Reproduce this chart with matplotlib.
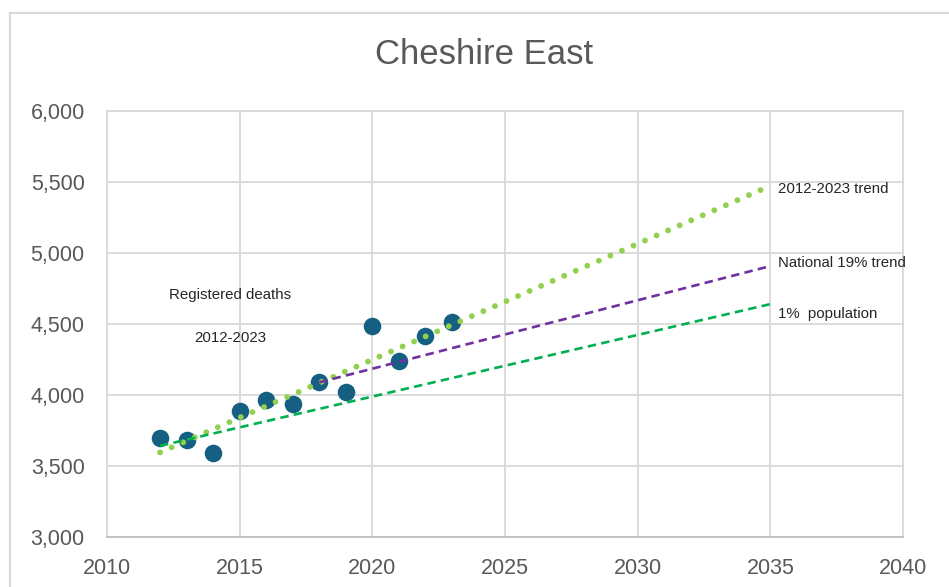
import numpy as np
import matplotlib
matplotlib.use("Agg")
import matplotlib.pyplot as plt
from matplotlib.lines import Line2D

plt.rcParams['font.family'] = ['Liberation Sans', 'DejaVu Sans']

# registered deaths, Cheshire East
years = [2012, 2013, 2014, 2015, 2016, 2017, 2018, 2019, 2020, 2021, 2022, 2023]
deaths = [3700, 3685, 3593, 3889, 3967, 3937, 4089, 4021, 4485, 4237, 4419, 4513]

# projections (start / end)
national_years = [2018, 2035]
national_vals = [4089, 4908]
pop_years = [2012, 2035]
pop_vals = [3642, 4640]
trend_years = [2012, 2035]

x_ticks = [2010, 2015, 2020, 2025, 2030, 2035, 2040]
y_ticks = [3000, 3500, 4000, 4500, 5000, 5500, 6000]

grey = "#595959"
grid = "#d9d9d9"

fig = plt.figure(figsize=(9.49, 5.87), dpi=100)
ax = fig.add_axes([107 / 949, 50 / 587, 796 / 949, 426 / 587])

# linear trend through the registered deaths (as excel does)
coef = np.polyfit(years, deaths, 1)
trend_vals = np.polyval(coef, trend_years)

ax.scatter(years, deaths, s=160, color="#156082", zorder=3, linewidths=0)
ax.plot(trend_years, trend_vals, color="#92d050", lw=4.2,
        linestyle=(0, (0.01, 2.15)), dash_capstyle="round", zorder=4)
ax.plot(national_years, national_vals, color="#7030a0", lw=1.9,
        linestyle=(0, (3.2, 2.0)), zorder=4)
ax.plot(pop_years, pop_vals, color="#00b050", lw=1.9,
        linestyle=(0, (3.2, 2.0)), zorder=4)

ax.set_xlim(2010, 2040)
ax.set_ylim(3000, 6000)
ax.set_xticks(x_ticks)
ax.set_yticks(y_ticks)
ax.set_yticklabels([f"{v:,}" for v in y_ticks])
ax.grid(True, color=grid, lw=1.3, zorder=0)
ax.set_axisbelow(True)
ax.tick_params(length=0, labelsize=15.5, labelcolor=grey)
ax.tick_params(axis="y", pad=16)
ax.tick_params(axis="x", pad=15)
for side in ["top", "right", "left"]:
    ax.spines[side].set_color(grid)
    ax.spines[side].set_linewidth(1.3)
ax.spines["bottom"].set_color("#bfbfbf")
ax.spines["bottom"].set_linewidth(1.3)

txt = dict(fontsize=10.8, color="#262626", va="center", ha="left")
ax.text(2035.3, 5449, "2012-2023 trend", **txt)
ax.text(2035.3, 4927, "National 19% trend", **txt)
ax.text(2035.3, 4567, "1%  population", **txt)
ax.text(2012.35, 4701, "Registered deaths", **txt)
ax.text(2013.3, 4398, "2012-2023", **txt)

fig.text(0.51, 1 - 55 / 587, "Cheshire East", fontsize=25, color=grey,
         ha="center", va="center")

# chart outer border (runs off right/bottom edge)
bx, by = 9.5 / 949, 1 - 12.5 / 587
fig.add_artist(Line2D([bx, bx], [0, by], transform=fig.transFigure, color=grid, lw=1.5))
fig.add_artist(Line2D([bx, 1], [by, by], transform=fig.transFigure, color=grid, lw=1.5))

fig.savefig("out.png", dpi=100)
